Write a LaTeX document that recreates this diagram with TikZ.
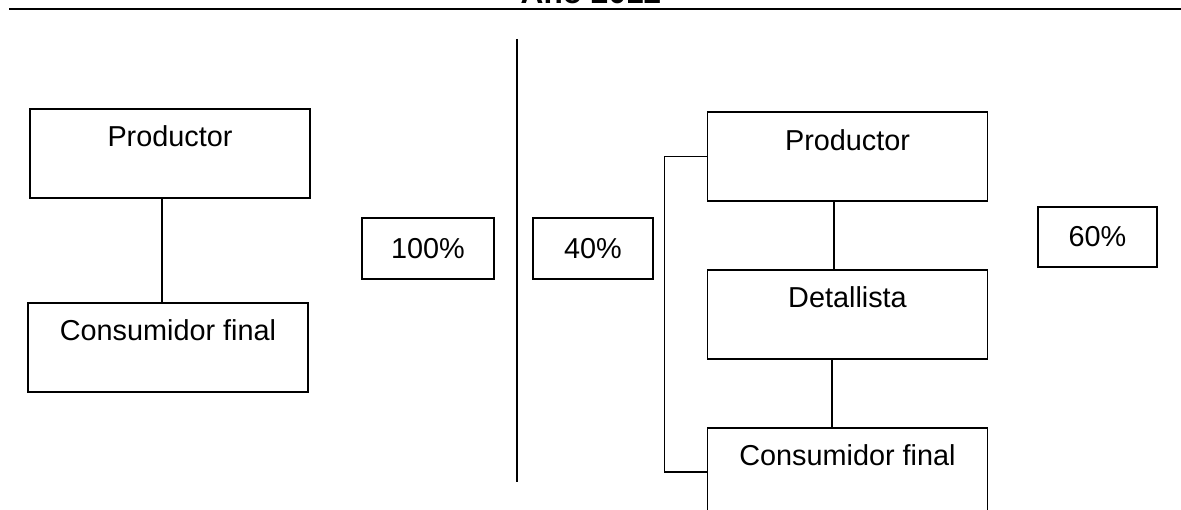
\documentclass[tikz,border=0pt]{standalone}
\usepackage{fontspec}
\setmainfont{Liberation Sans}
\usetikzlibrary{
  chains,
  positioning,
}

\begin{document}
\begin{tikzpicture}[
  x=0.025cm, y=-0.025cm,
  line width=1.3pt,
  font=\fontsize{20.5}{24}\selectfont,
  caja/.style={
     draw,
     inner sep=0pt,
     minimum width=7cm,
     text height=0.95cm,
     text depth=1.27cm,
  },
  pct/.style={
     draw,
     inner sep=0pt,
     minimum height=1.52cm,
  },
  node distance=1.68cm,
  start chain=going below
]
   \useasboundingbox (0,0) rectangle (1181,510);
   \node[font=\fontsize{22.5}{26}\bfseries\selectfont,anchor=base] (titulo) at (591,4) {Año 2012};
   \draw[line width=1.6pt] (9,9) -- (1181,9);
   \draw (517,39) -- (517,482);

   \node[caja,anchor=north] (pL) at (170,108) {Productor};
   \node[caja,anchor=north] (cL) at (168,302) {Consumidor final};
   \coordinate (kL) at ([xshift=-0.21cm]pL.south);
   \draw (kL) -- (kL |- cL.north);

   \node[pct,minimum width=3.3cm] (p100) at (428,248.5) {100\%};
   \node[pct,minimum width=3cm] (p40) at (593,248.5) {40\%};
   \node[pct,minimum width=2.98cm] (p60) at (1097.5,237) {60\%};

   \node[caja,on chain] (pR) at (847.5,156.5) {Productor};
   \node[caja,on chain] (dR) {Detallista};
   \node[caja,on chain] (cR) {Consumidor final};
   \coordinate (kR) at ([xshift=-0.34cm]pR.south);
   \coordinate (kD) at ([xshift=-0.39cm]dR.south);
   \draw (kR) -- (kR |- dR.north);
   \draw (kD) -- (kD |- cR.north);
   \draw (pR.west) -- ++(-42,0) |- (cR.west);
\end{tikzpicture}
\end{document}
